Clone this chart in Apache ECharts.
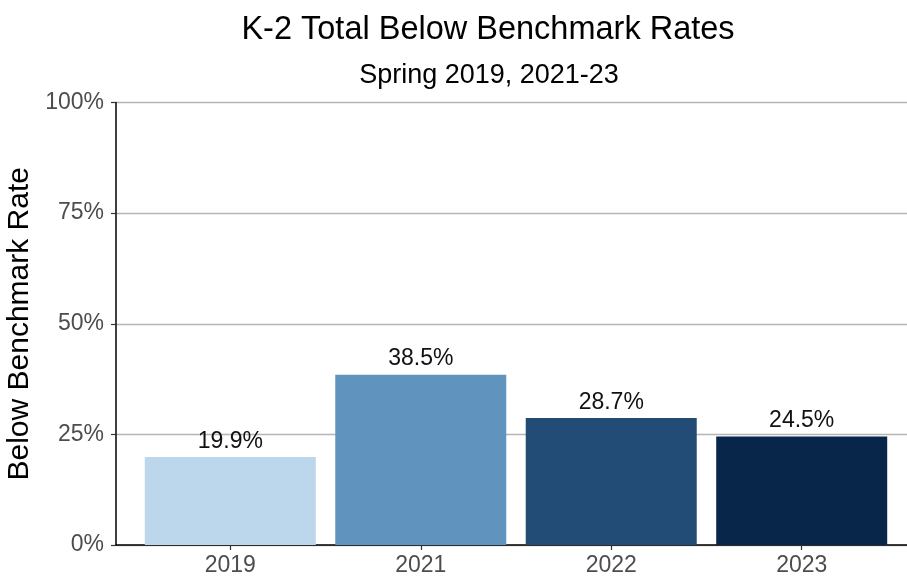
<!DOCTYPE html>
<html>
<head>
<meta charset="utf-8">
<script src="https://cdn.jsdelivr.net/npm/echarts@6/dist/echarts.min.js"></script>
<style>html,body{margin:0;padding:0;background:#fff}#c{width:907px;height:577px}</style>
</head>
<body>
<div id="c"></div>
<script>
const categories = ['2019', '2021', '2022', '2023'];
const values = [19.9, 38.5, 28.7, 24.5];
const barColors = ['#bcd6ec', '#6193bf', '#224b76', '#08264a'];
const yTicks = [0, 25, 50, 75, 100];

const FONT = '"Liberation Sans", Arial, sans-serif';
const chart = echarts.init(document.getElementById('c'), null, {renderer: 'canvas'});
const positions = categories.map((c, i) => i + 1);

chart.setOption({
  animation: false,
  backgroundColor: '#fff',
  title: [
    {text: 'K-2 Total Below Benchmark Rates', left: 483, textAlign: 'center', top: 9,
     textStyle: {fontFamily: FONT, fontSize: 32.5, fontWeight: 'normal', color: '#000'}},
    {text: 'Spring 2019, 2021-23', left: 484, textAlign: 'center', top: 57,
     textStyle: {fontFamily: FONT, fontSize: 27, fontWeight: 'normal', color: '#000'}}
  ],
  grid: {left: 116, width: 800, top: 102.5, bottom: 32, containLabel: false, outerBoundsMode: 'none'},
  xAxis: {
    type: 'value', min: 0.4, max: 4.6,
    axisLine: {show: true, lineStyle: {color: '#000', width: 1.5}},
    axisTick: {show: true, customValues: positions, length: 5, lineStyle: {color: '#333', width: 1.2}},
    axisLabel: {customValues: positions, formatter: v => categories[Math.round(v) - 1] || '',
      fontFamily: FONT, fontSize: 23, color: '#4d4d4d', margin: 9},
    splitLine: {show: false}
  },
  yAxis: {
    type: 'value', min: 0, max: 100, interval: 12.5,
    name: 'Below Benchmark Rate', nameLocation: 'middle', nameGap: 78, nameRotate: 90,
    nameTextStyle: {fontFamily: FONT, fontSize: 30, color: '#000'},
    axisLine: {show: true, lineStyle: {color: '#000', width: 1.5}},
    axisTick: {show: true, customValues: yTicks, length: 5, lineStyle: {color: '#333', width: 1.2}},
    axisLabel: {customValues: yTicks, formatter: v => v + '%',
      fontFamily: FONT, fontSize: 23, color: '#4d4d4d', margin: 12},
    splitLine: {show: true, lineStyle: {color: '#b5b5b5', width: 1.3}}
  },
  series: [{
    type: 'bar',
    barWidth: 171,
    data: values.map((v, i) => ({value: [positions[i], v], itemStyle: {color: barColors[i]}})),
    label: {show: true, position: 'top', distance: 4, formatter: p => p.value[1].toFixed(1) + '%',
      fontFamily: FONT, fontSize: 23, color: '#111'}
  }]
});
</script>
</body>
</html>
